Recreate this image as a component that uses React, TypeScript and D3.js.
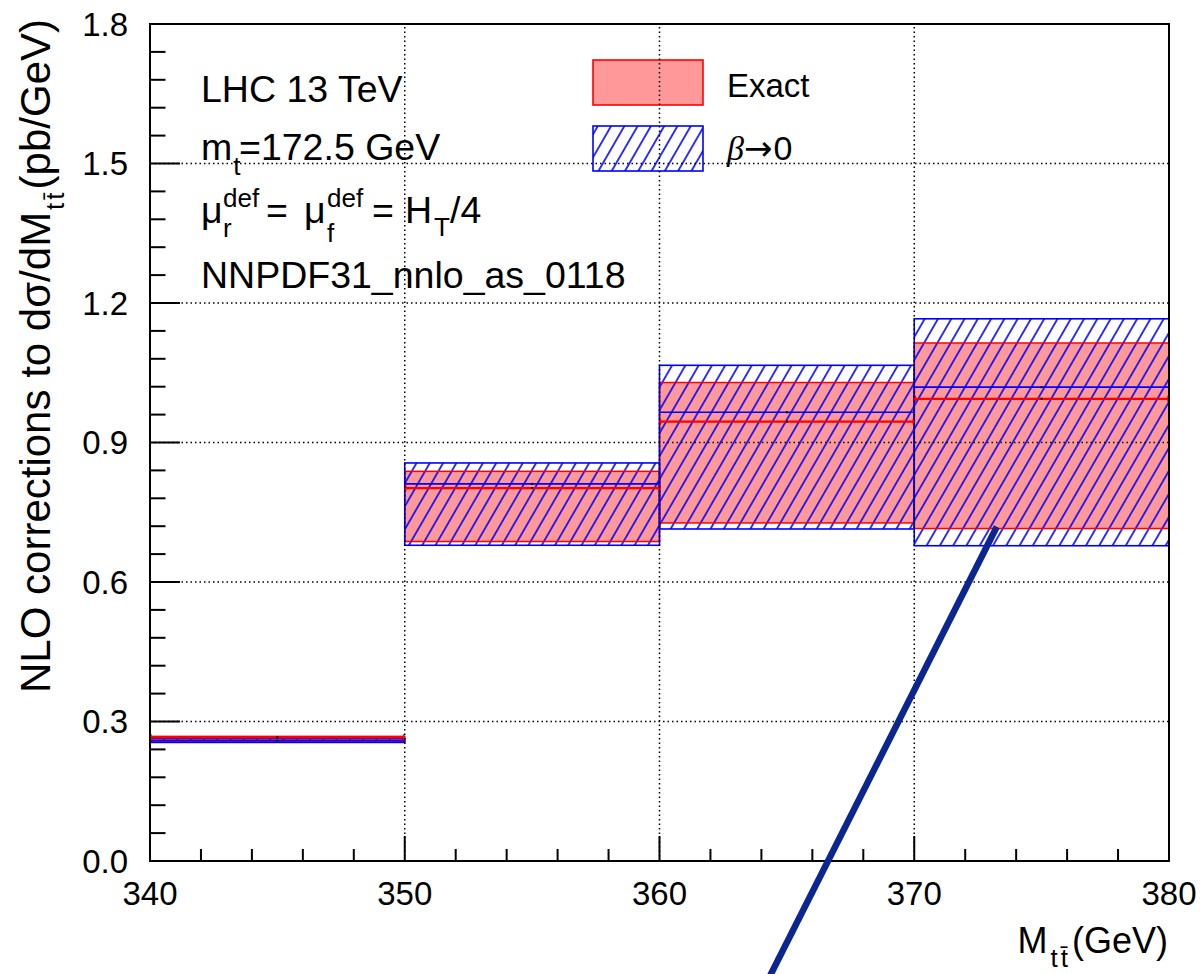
import React from "react";
import * as d3 from "d3";

// ---- data ----
const binEdges = [340, 350, 360, 370, 380];
const exactCentral = [0.266, 0.802, 0.945, 0.994];
const exactLow = [0.257, 0.687, 0.727, 0.715];
const exactHigh = [0.268, 0.838, 1.029, 1.114];
const betaCentral = [0.259, 0.811, 0.965, 1.019];
const betaLow = [0.255, 0.679, 0.714, 0.678];
const betaHigh = [0.263, 0.856, 1.066, 1.166];
const xMajorTicks = [340, 350, 360, 370, 380];
const yMajorTicks = [0, 0.3, 0.6, 0.9, 1.2, 1.5, 1.8];
const annotationLine = [
  { x: 373.24, y: 0.719 },
  { x: 363.85, y: -0.3 },
];

const W = 1203;
const H = 974;
const FONT = "'Liberation Sans', Arial, Helvetica, sans-serif";
const PINK = "#ff9999";
const RED = "#ff0000";
const BLUE = "#0000ff";

export default function App() {
  const x = d3.scaleLinear().domain([340, 380]).range([150, 1169]);
  const y = d3.scaleLinear().domain([0, 1.8]).range([861, 24]);
  const [x0, x1] = x.range();
  const [yb, yt] = y.range();

  const xMinor = d3.range(340, 380.001, 2).filter((v) => !xMajorTicks.some((m) => Math.abs(m - v) < 1e-6));
  const yMinor = d3.range(0, 1.8001, 0.06).filter((v) => !yMajorTicks.some((m) => Math.abs(m - v) < 1e-6));
  const fmtY = d3.format(".1f");
  const bins = exactCentral.map((_, i) => ({
    a: binEdges[i],
    b: binEdges[i + 1],
    ec: exactCentral[i],
    el: exactLow[i],
    eh: exactHigh[i],
    bc: betaCentral[i],
    bl: betaLow[i],
    bh: betaHigh[i],
  }));
  const navy = d3.line<{ x: number; y: number }>().x((d) => x(d.x)).y((d) => y(d.y));

  return (
    <svg width={W} height={H} style={{ position: "absolute", left: 0, top: 0, background: "#fff" }} fontFamily={FONT}>
      <defs>
        <pattern id="hatch" patternUnits="userSpaceOnUse" width={11.5} height={20} patternTransform="rotate(30)">
          <line x1={5.75} y1={-1} x2={5.75} y2={21} stroke={BLUE} strokeWidth={1.6} />
        </pattern>
      </defs>
      <rect x={0} y={0} width={W} height={H} fill="#fff" />

      {/* exact fill */}
      {bins.map((d, i) => (
        <rect key={"ef" + i} x={x(d.a)} y={y(d.eh)} width={x(d.b) - x(d.a)} height={y(d.el) - y(d.eh)} fill={PINK} />
      ))}
      {/* beta hatch */}
      {bins.map((d, i) => (
        <rect key={"bh" + i} x={x(d.a)} y={y(d.bh)} width={x(d.b) - x(d.a)} height={y(d.bl) - y(d.bh)} fill="url(#hatch)" />
      ))}
      {/* exact borders */}
      {bins.map((d, i) => (
        <rect key={"eb" + i} x={x(d.a)} y={y(d.eh)} width={x(d.b) - x(d.a)} height={y(d.el) - y(d.eh)} fill="none" stroke={RED} strokeWidth={1.5} />
      ))}
      {/* beta borders */}
      {bins.map((d, i) => (
        <g key={"bb" + i}>
          <rect x={x(d.a)} y={y(d.bh)} width={x(d.b) - x(d.a)} height={y(d.bl) - y(d.bh)} fill="none" stroke={BLUE} strokeWidth={1.6} />
          <line x1={x(d.a)} x2={x(d.b)} y1={y(d.bc)} y2={y(d.bc)} stroke={BLUE} strokeWidth={1.6} />
          <rect x={(x(d.a) + x(d.b)) / 2 - 1} y={y(d.bc) - 1} width={2} height={2} fill="#000" />
        </g>
      ))}
      {/* exact central */}
      {bins.map((d, i) => (
        <g key={"ec" + i}>
          <line x1={x(d.a)} x2={x(d.b)} y1={y(d.ec)} y2={y(d.ec)} stroke={RED} strokeWidth={2.2} />
          <line x1={x(d.a) + 1} x2={x(d.a) + 1} y1={y(d.ec) - 3} y2={y(d.ec) + 3} stroke={RED} strokeWidth={1.5} />
          <line x1={x(d.b) - 1} x2={x(d.b) - 1} y1={y(d.ec) - 3} y2={y(d.ec) + 3} stroke={RED} strokeWidth={1.5} />
          <rect x={(x(d.a) + x(d.b)) / 2 - 1} y={y(d.ec) - 1} width={2} height={2} fill="#000" />
        </g>
      ))}

      {/* legend */}
      <rect x={593} y={60} width={110} height={45} fill={PINK} stroke={RED} strokeWidth={1.6} />
      <text x={727} y={97} fontSize={33} fill="#000">Exact</text>
      <rect x={593} y={126} width={110} height={45} fill="url(#hatch)" stroke={BLUE} strokeWidth={1.6} />
      <text x={727} y={160} fontSize={34} fill="#000">
        <tspan fontFamily="'Liberation Serif', 'Times New Roman', serif" fontStyle="italic">β</tspan>
        <tspan fontFamily="'DejaVu Sans', sans-serif" fontSize={34} dx={0}>→</tspan>
        <tspan dx={1}>0</tspan>
      </text>

      {/* annotations */}
      <g fontSize={37.5} fill="#000">
        <text x={201} y={102}>LHC 13 TeV</text>
        <text x={201} y={160}>
          m<tspan fontSize={26} dy={15} dx={1}>t</tspan>
          <tspan x={239} dy={-15}>=172.5 GeV</tspan>
        </text>
        <text x={201} y={223}>μ</text>
        <text x={223} y={237} fontSize={26}>r</text>
        <text x={223} y={207} fontSize={26}>def</text>
        <text x={266} y={223}>=</text>
        <text x={304} y={223}>μ</text>
        <text x={327} y={242} fontSize={26}>f</text>
        <text x={327} y={207} fontSize={26}>def</text>
        <text x={372} y={223}>=</text>
        <text x={405} y={223}>H</text>
        <text x={434} y={236} fontSize={26}>T</text>
        <text x={450} y={223}>/4</text>
        <text x={201} y={288}>NNPDF31_nnlo_as_0118</text>
      </g>

      {/* grid (drawn over) */}
      <g stroke="#000" strokeWidth={1.5} strokeDasharray="1.5 3">
        {xMajorTicks.slice(1, -1).map((v) => (
          <line key={"gx" + v} x1={x(v)} x2={x(v)} y1={yb} y2={yt} />
        ))}
        {yMajorTicks.slice(1, -1).map((v) => (
          <line key={"gy" + v} x1={x0} x2={x1} y1={y(v)} y2={y(v)} />
        ))}
      </g>

      {/* frame */}
      <rect x={x0} y={yt} width={x1 - x0} height={yb - yt} fill="none" stroke="#000" strokeWidth={2} />
      {/* ticks */}
      <g stroke="#000" strokeWidth={2}>
        {xMajorTicks.map((v) => (
          <line key={"xt" + v} x1={x(v)} x2={x(v)} y1={yb} y2={yb - 25} />
        ))}
        {xMinor.map((v) => (
          <line key={"xm" + v} x1={x(v)} x2={x(v)} y1={yb} y2={yb - 12} />
        ))}
        {yMajorTicks.map((v) => (
          <line key={"yt" + v} x1={x0} x2={x0 + 30} y1={y(v)} y2={y(v)} />
        ))}
        {yMinor.map((v) => (
          <line key={"ym" + v} x1={x0} x2={x0 + 15.5} y1={y(v)} y2={y(v)} />
        ))}
      </g>
      <g fontSize={33} fill="#000">
        {xMajorTicks.map((v) => (
          <text key={"xl" + v} x={x(v)} y={905} textAnchor="middle">{v}</text>
        ))}
        {yMajorTicks.map((v) => (
          <text key={"yl" + v} x={128} y={y(v) + 11.5} textAnchor="end">{fmtY(v)}</text>
        ))}
      </g>

      {/* axis titles */}
      <text x={1168} y={953} fontSize={36} textAnchor="end" fill="#000">
        M<tspan fontSize={26} dy={14} dx={3}>t</tspan>
        <tspan fontSize={26} dx={3}>t̄</tspan>
        <tspan dy={-14} dx={4}>(GeV)</tspan>
      </text>
      <text transform="translate(50,19) rotate(-90)" x={0} y={0} fontSize={42} textAnchor="end" fill="#000">
        NLO corrections to dσ/dM<tspan fontSize={26} dy={14} dx={2}>t</tspan>
        <tspan fontSize={26} dx={3}>t̄</tspan>
        <tspan dy={-14} dx={3}>(pb/GeV)</tspan>
      </text>

      {/* thick navy annotation line */}
      <path d={navy(annotationLine) || ""} stroke="#0b2690" strokeWidth={6.5} fill="none" strokeLinecap="butt" />
    </svg>
  );
}
